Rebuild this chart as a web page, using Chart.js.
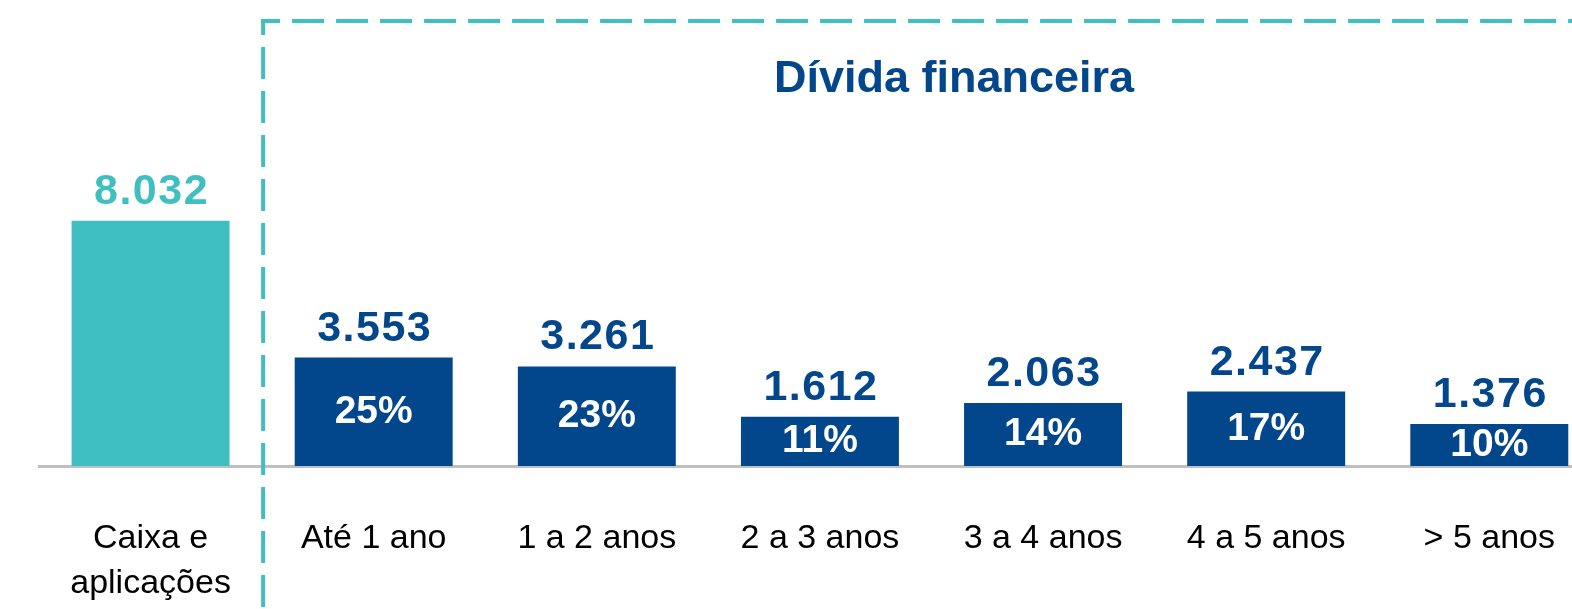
<!DOCTYPE html>
<html lang="pt-BR">
<head>
<meta charset="utf-8">
<title>Caixa e dívida financeira</title>
<script src="https://cdn.jsdelivr.net/npm/chart.js@4.4.1/dist/chart.umd.min.js"></script>
<style>
  html, body { margin: 0; padding: 0; background: #fff; overflow: hidden; }
  .wrap { position: absolute; left: 0; top: 0; width: 1605px; height: 609px; }
</style>
</head>
<body>
<div class="wrap"><canvas id="grafico"></canvas></div>
<script>
// dados
const categorias = [['Caixa e', 'aplicações'], 'Até 1 ano', '1 a 2 anos', '2 a 3 anos', '3 a 4 anos', '4 a 5 anos', '> 5 anos'];
const valores = [8032, 3553, 3261, 1612, 2063, 2437, 1376];
const percentuais = [null, 25, 23, 11, 14, 17, 10];
const titulo = 'Dívida financeira';

const TEAL = '#3fbfbf';
const NAVY = '#02468b';

const cores = valores.map((v, i) => i === 0 ? TEAL : NAVY);

// rótulos de valor e percentual
const rotulosPlugin = {
    id: 'rotulos',
    afterDatasetsDraw(chart) {
        const ctx = chart.ctx;
        const meta = chart.getDatasetMeta(0);
        ctx.save();
        meta.data.forEach((bar, i) => {
            // valor acima da barra
            ctx.font = 'bold 43px "Liberation Sans", Arial, sans-serif';
            ctx.letterSpacing = '1.5px';
            ctx.fillStyle = i === 0 ? TEAL : NAVY;
            ctx.textAlign = 'center';
            ctx.textBaseline = 'alphabetic';
            ctx.fillText(valores[i].toLocaleString('pt-BR'), bar.x + 1, bar.y - 17);

            // percentual dentro da barra
            if (percentuais[i] !== null) {
                ctx.font = 'bold 39px "Liberation Sans", Arial, sans-serif';
                ctx.letterSpacing = '0px';
                ctx.fillStyle = '#ffffff';
                ctx.textBaseline = 'middle';
                ctx.fillText(percentuais[i] + '%', bar.x, (bar.y + bar.base) / 2);
            }
        });
        ctx.restore();
    }
};

// caixa tracejada e título da dívida
const caixaPlugin = {
    id: 'caixaTracejada',
    afterDraw(chart) {
        const ctx = chart.ctx;
        const x = chart.scales.x;
        const left = (x.getPixelForValue(0) + x.getPixelForValue(1)) / 2 + 1;
        const top = 21;
        ctx.save();
        ctx.strokeStyle = TEAL;
        ctx.lineWidth = 4;
        ctx.setLineDash([32, 12]);

        ctx.lineDashOffset = 16;
        ctx.beginPath();
        ctx.moveTo(left, top - 2);
        ctx.lineTo(left, chart.height + 10);
        ctx.stroke();

        ctx.lineDashOffset = 13;
        ctx.beginPath();
        ctx.moveTo(left - 2, top);
        ctx.lineTo(chart.width + 10, top);
        ctx.stroke();

        ctx.font = 'bold 45px "Liberation Sans", Arial, sans-serif';
        ctx.fillStyle = NAVY;
        ctx.textAlign = 'center';
        ctx.textBaseline = 'alphabetic';
        ctx.fillText(titulo, 954, 92);
        ctx.restore();
    }
};

new Chart(document.getElementById('grafico'), {
    type: 'bar',
    data: {
        labels: categorias,
        datasets: [{
            data: valores,
            backgroundColor: cores,
            borderWidth: 0,
            barPercentage: 1,
            categoryPercentage: 0.708
        }]
    },
    options: {
        responsive: true,
        maintainAspectRatio: false,
        animation: false,
        layout: {
            padding: { left: 39, right: 0, top: 8, bottom: 0 }
        },
        plugins: {
            legend: { display: false },
            tooltip: { enabled: false }
        },
        scales: {
            x: {
                grid: { display: false, drawTicks: false },
                border: { display: true, color: '#bfbfbf', width: 3 },
                ticks: {
                    color: '#000000',
                    padding: 50,
                    maxRotation: 0,
                    autoSkip: false,
                    font: { family: '"Liberation Sans", Arial, sans-serif', size: 34, lineHeight: 1.32 }
                },
                afterFit(scale) {
                    scale.height = 143;
                }
            },
            y: {
                display: false,
                min: 0,
                max: 15000
            }
        }
    },
    plugins: [rotulosPlugin, caixaPlugin]
});
</script>
</body>
</html>
